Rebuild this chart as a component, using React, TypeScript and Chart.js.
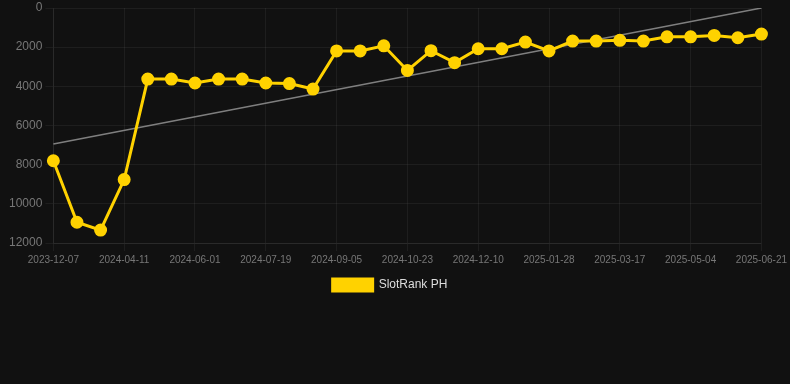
import React, { useEffect, useRef } from "react";
import { Chart, registerables } from "chart.js";

Chart.register(...registerables);

const dates = [
  "2023-12-07", "2024-01-19", "2024-02-29", "2024-04-11", "2024-04-28", "2024-05-15",
  "2024-06-01", "2024-06-17", "2024-07-03", "2024-07-19", "2024-08-04", "2024-08-20",
  "2024-09-05", "2024-09-21", "2024-10-07", "2024-10-23", "2024-11-08", "2024-11-24",
  "2024-12-10", "2024-12-26", "2025-01-12", "2025-01-28", "2025-02-13", "2025-03-01",
  "2025-03-17", "2025-04-02", "2025-04-18", "2025-05-04", "2025-05-20", "2025-06-05",
  "2025-06-21",
];

const rankValues = [
  7800, 10940, 11340, 8760, 3630, 3630,
  3830, 3630, 3630, 3830, 3860, 4140,
  2190, 2190, 1930, 3190, 2180, 2790,
  2080, 2080, 1740, 2190, 1690, 1690,
  1650, 1690, 1470, 1470, 1400, 1520,
  1330,
];

const trendStart = 6950;
const trendEnd = 0;

const yTicks = [0, 2000, 4000, 6000, 8000, 10000, 12000];
const seriesLabel = "SlotRank PH";

export default function App() {
  const ref = useRef<HTMLCanvasElement | null>(null);

  useEffect(() => {
    document.body.style.margin = "0";
    document.body.style.background = "#111111";
    const trend = dates.map((_, i) =>
      i === 0 ? trendStart : i === dates.length - 1 ? trendEnd : null
    );
    const gridColor = "rgba(255,255,255,0.055)";
    const chart = new Chart(ref.current!, {
      type: "line",
      data: {
        labels: dates,
        datasets: [
          {
            label: seriesLabel,
            data: rankValues,
            borderColor: "#FFD200",
            backgroundColor: "#FFD200",
            borderWidth: 3,
            pointRadius: 5,
            pointHoverRadius: 5,
            pointBackgroundColor: "#FFD200",
            pointBorderColor: "#FFD200",
            tension: 0,
          },
          {
            label: "trend",
            data: trend as any,
            borderColor: "rgba(140,140,140,0.9)",
            borderWidth: 1.5,
            pointRadius: 0,
            spanGaps: true,
            fill: false,
          },
        ],
      },
      options: {
        animation: false,
        responsive: false,
        layout: { padding: { left: 6, right: 16, top: 0 } },
        plugins: {
          legend: {
            position: "bottom",
            labels: {
              color: "#dddddd",
              font: { size: 12, family: "Arial, Liberation Sans, sans-serif" },
              boxWidth: 40,
              boxHeight: 12,
              filter: (item) => item.text !== "trend",
            },
          },
          tooltip: { enabled: false },
        },
        scales: {
          x: {
            offset: false,
            grid: {
              color: (ctx: any) => (ctx.index % 3 === 0 ? gridColor : "rgba(0,0,0,0)"),
            },
            border: { color: gridColor },
            ticks: {
              color: "#777777",
              font: { size: 10, family: "Arial, Liberation Sans, sans-serif" },
              autoSkip: false,
              maxRotation: 0,
              callback: function (value: any, index: number) {
                return index % 3 === 0 ? dates[index] : "";
              },
            },
          },
          y: {
            reverse: true,
            min: 0,
            max: 12000,
            afterBuildTicks: (axis: any) => {
              axis.ticks = yTicks.map((v) => ({ value: v }));
            },
            grid: { color: gridColor },
            border: { color: gridColor },
            ticks: {
              color: "#777777",
              font: { size: 12, lineHeight: 0.55, family: "Arial, Liberation Sans, sans-serif" },
              callback: (v: any) => String(v),
            },
          },
        },
      },
    });
    return () => chart.destroy();
  }, []);

  return (
    <div style={{ width: 790, height: 384, background: "#111111" }}>
      <canvas ref={ref} width={790} height={301} />
    </div>
  );
}
